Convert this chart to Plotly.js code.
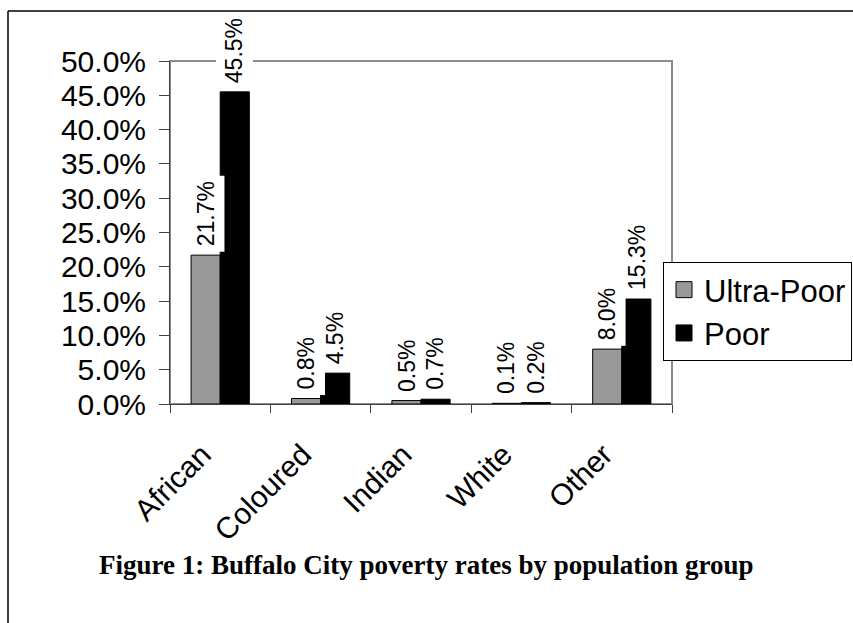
<!DOCTYPE html>
<html>
<head>
<meta charset="utf-8">
<script src="https://cdn.plot.ly/plotly-3.0.1.min.js"></script>
<style>
  html, body { margin: 0; padding: 0; background: #ffffff; }
  #chart { width: 853px; height: 623px; }
</style>
</head>
<body>
<div id="chart"></div>
<script>
// ---- data (percent) ----
var categories = ['African', 'Coloured', 'Indian', 'White', 'Other'];
var ultraPoor = [21.7, 0.8, 0.5, 0.1, 8.0];
var poor = [45.5, 4.5, 0.7, 0.2, 15.3];
var seriesNames = ['Ultra-Poor', 'Poor'];
var captionText = 'Figure 1: Buffalo City poverty rates by population group';

var W = 853, H = 623;
var mL = 170, mR = 181, mT = 61, mB = 219;
var plotW = W - mL - mR, plotH = H - mT - mB;
function px2paperX(px) { return (px - mL) / plotW; }
function px2paperY(py) { return (H - mB - py) / plotH; }

var FONT = 'Liberation Sans, Arial, sans-serif';
var greyFill = '#999999';

var traces = [
  {
    type: 'bar', name: seriesNames[0], x: categories, y: ultraPoor,
    marker: { color: greyFill, line: { color: '#000000', width: 1 } },
    showlegend: false, hoverinfo: 'x+y'
  },
  {
    type: 'bar', name: seriesNames[1], x: categories, y: poor,
    marker: { color: '#000000', line: { color: '#000000', width: 1 } },
    showlegend: false, hoverinfo: 'x+y'
  },
  // legend entries
  {
    type: 'scatter', mode: 'markers', name: seriesNames[0], x: [null], y: [null],
    marker: { symbol: 'square', size: 16, color: greyFill, line: { color: '#000000', width: 1 } },
    legendgroup: 'a', hoverinfo: 'skip'
  },
  {
    type: 'scatter', mode: 'markers', name: seriesNames[1], x: [null], y: [null],
    marker: { symbol: 'square', size: 16, color: '#000000', line: { color: '#000000', width: 1 } },
    legendgroup: 'b', hoverinfo: 'skip'
  }
];

var annotations = [];
function addLabels(vals, shift) {
  for (var i = 0; i < categories.length; i++) {
    annotations.push({
      x: categories[i], y: vals[i], xref: 'x', yref: 'y',
      xshift: shift, yshift: 3,
      text: vals[i].toFixed(1) + '%',
      textangle: -90, showarrow: false,
      xanchor: 'center', yanchor: 'bottom',
      bgcolor: '#ffffff', borderpad: 5,
      font: { family: FONT, size: 23, color: '#000000' }
    });
  }
}
addLabels(ultraPoor, -14.6);
addLabels(poor, 14.6);

annotations.push({
  xref: 'paper', yref: 'paper',
  x: px2paperX(426), y: px2paperY(565),
  xanchor: 'center', yanchor: 'middle',
  text: '<b>' + captionText + '</b>', showarrow: false,
  font: { family: 'Liberation Serif, Times New Roman, serif', size: 27, color: '#000000' }
});

var shapes = [
  // plot area border (top/right grey)
  { type: 'rect', xref: 'paper', yref: 'paper', x0: 0, x1: 1, y0: 0, y1: 1,
    line: { color: '#8c8c8c', width: 2 }, layer: 'below' },
  // page frame lines
  { type: 'line', xref: 'paper', yref: 'paper',
    x0: px2paperX(8), x1: px2paperX(853), y0: px2paperY(11), y1: px2paperY(11),
    line: { color: '#000000', width: 1.5 } },
  { type: 'line', xref: 'paper', yref: 'paper',
    x0: px2paperX(8), x1: px2paperX(8), y0: px2paperY(11), y1: px2paperY(623),
    line: { color: '#000000', width: 1.5 } }
];

var layout = {
  width: W, height: H,
  margin: { l: mL, r: mR, t: mT, b: mB, autoexpand: false },
  paper_bgcolor: '#ffffff', plot_bgcolor: '#ffffff',
  barmode: 'group', bargap: 0.42, bargroupgap: 0,
  font: { family: FONT, color: '#000000' },
  xaxis: {
    type: 'category', tickangle: -45, tickson: 'boundaries',
    ticks: 'outside', ticklen: 8, tickcolor: '#404040', tickwidth: 1,
    showline: true, linecolor: '#404040', linewidth: 1,
    showgrid: false, zeroline: false,
    tickfont: { family: FONT, size: 30, color: '#000000' },
    ticklabelstandoff: 20, ticklabelshift: -18
  },
  yaxis: {
    range: [0, 50], dtick: 5, tick0: 0, tickformat: '.1f', ticksuffix: '%',
    ticks: 'outside', ticklen: 10, tickcolor: '#404040', tickwidth: 1,
    showline: true, linecolor: '#404040', linewidth: 1,
    showgrid: false, zeroline: false, fixedrange: true,
    tickfont: { family: FONT, size: 30, color: '#000000' },
    ticklabelstandoff: 7
  },
  legend: {
    x: px2paperX(663), y: px2paperY(262), xanchor: 'left', yanchor: 'top',
    bgcolor: '#ffffff', bordercolor: '#000000', borderwidth: 1,
    font: { family: FONT, size: 31, color: '#000000' },
    traceorder: 'grouped', tracegroupgap: 0,
    entrywidth: 210, entrywidthmode: 'pixels'
  },
  annotations: annotations,
  shapes: shapes,
  showlegend: true
};

Plotly.newPlot('chart', traces, layout, { displayModeBar: false, staticPlot: true });
</script>
</body>
</html>
